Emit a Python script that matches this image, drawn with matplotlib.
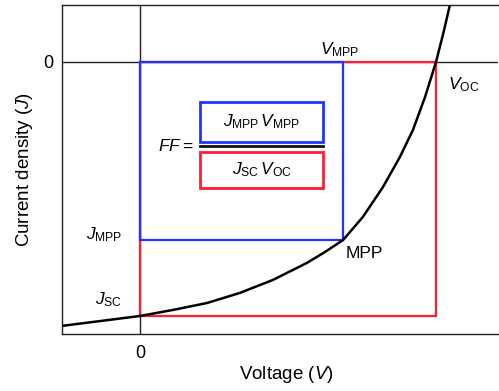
import matplotlib
matplotlib.use("Agg")
from matplotlib import pyplot as plt
from matplotlib.patches import Rectangle

plt.rcParams['font.family'] = ['Liberation Sans', 'DejaVu Sans']
plt.rcParams['mathtext.fontset'] = 'custom'
plt.rcParams['mathtext.rm'] = 'Liberation Sans'
plt.rcParams['mathtext.it'] = 'Liberation Sans:italic'

# J-V curve, normalised: V in units of Voc, J in units of Jsc
voltage = [-0.264, -0.135, 0.0, 0.112, 0.226, 0.338, 0.449, 0.564, 0.625, 0.686,
           0.753, 0.821, 0.878, 0.922, 0.963, 1.0, 1.024, 1.047]
current = [-1.039, -1.020, -1.0, -0.976, -0.949, -0.909, -0.858, -0.791, -0.748, -0.701,
           -0.610, -0.492, -0.374, -0.268, -0.138, 0.0, 0.110, 0.224]

v_oc = 1.0
j_sc = -1.0
v_mpp = 0.686
j_mpp = -0.701

blue = '#1f35ff'
red = '#ff1f2e'

fig = plt.figure(figsize=(4.99, 3.91), dpi=100)
ax = fig.add_axes([62/499, 1 - 334/391, 436/499, 329/391])
ax.set_xlim(-0.2635, 1.2095)
ax.set_ylim(-1.0709, 0.2244)

for s in ['left', 'bottom', 'top']:
    ax.spines[s].set_linewidth(1.0)
    ax.spines[s].set_color('#222222')
ax.spines['right'].set_visible(False)

ax.axvline(0, color='#222222', lw=1.0, zorder=1)
ax.axhline(0, color='#222222', lw=1.0, zorder=1)

# red rectangle: Jsc * Voc, blue rectangle: Jmpp * Vmpp
ax.add_patch(Rectangle((0, j_sc), v_oc, -j_sc, fill=False, ec=red, lw=1.6, zorder=2))
ax.add_patch(Rectangle((0, j_mpp), v_mpp, -j_mpp, fill=False, ec=blue, lw=1.6, zorder=3))

ax.plot(voltage, current, color='black', lw=1.8, zorder=4, solid_joinstyle='round')

ax.set_xticks([0])
ax.set_yticks([0])
ax.tick_params(length=0, labelsize=13)
ax.tick_params(axis='y', pad=6)
ax.tick_params(axis='x', pad=8)
ax.set_xlabel('Voltage ($V$)', fontsize=13.5)
ax.set_ylabel('Current density ($J$)', fontsize=13.5, labelpad=6)
ax.xaxis.set_label_coords(0.514, -0.09)

fs = 12.5
ax.text(v_mpp - 0.01, 0.05, r'$V_{\mathrm{MPP}}$', fontsize=fs, ha='center', va='center')
ax.text(v_oc + 0.04, -0.09, r'$V_{\mathrm{OC}}$', fontsize=fs, ha='left', va='center')
ax.text(v_mpp + 0.01, -0.755, 'MPP', fontsize=fs, ha='left', va='center')
ax.text(-0.06, j_mpp + 0.02, r'$J_{\mathrm{MPP}}$', fontsize=fs, ha='right', va='center')
ax.text(-0.06, j_sc + 0.065, r'$J_{\mathrm{SC}}$', fontsize=fs, ha='right', va='center')

# fill factor formula
ax.text(0.18, -0.33, r'$FF=$', fontsize=fs, ha='right', va='center')
box_l = 60 / 296
box_w = 123 / 296
ax.add_patch(Rectangle((box_l, -80/254), box_w, 40/254, fill=False, ec=blue, lw=2.0, zorder=3))
ax.add_patch(Rectangle((box_l, -126/254), box_w, 36/254, fill=False, ec=red, lw=2.0, zorder=3))
ax.plot([box_l, box_l + box_w], [-84/254, -84/254], color='#111111', lw=2.0, zorder=3)
ax.text(box_l + box_w/2, -60/254, r'$J_{\mathrm{MPP}}\,V_{\mathrm{MPP}}$', fontsize=fs,
        ha='center', va='center')
ax.text(box_l + box_w/2, -108/254, r'$J_{\mathrm{SC}}\,V_{\mathrm{OC}}$', fontsize=fs,
        ha='center', va='center')

plt.savefig('out.png', dpi=100)
